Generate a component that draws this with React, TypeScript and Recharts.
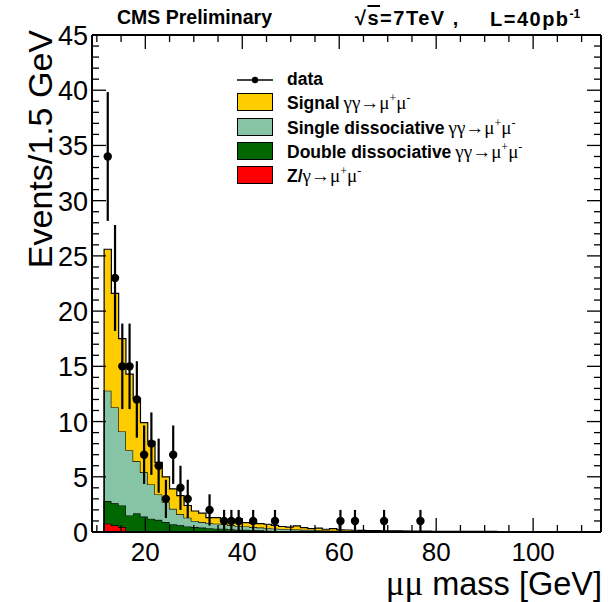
import { ComposedChart, Area, Scatter, ErrorBar, XAxis, YAxis } from 'recharts';

const FONT = '"Liberation Sans", Arial, Helvetica, sans-serif';
const GREEK = '"Liberation Serif", "DejaVu Serif", serif';

const YELLOW = '#ffcc00';
const LIGHT_GREEN = '#87c4a6';
const DARK_GREEN = '#006600';
const RED = '#ff0000';

// 1.5 GeV bins starting at 11.5 GeV
const BIN_START = 11.5;
const BIN_WIDTH = 1.5;

// stacked components per bin (bottom to top)
const zGamma = [
  0.75, 0.6, 0.45, 0.05, 0.05, 0.04, 0.04, 0.03, 0.03, 0.03,
  0.02, 0.02, 0.02, 0.02, 0.02, 0.02, 0.02, 0.02, 0.02, 0.02,
  0.01, 0.01, 0.01, 0.01, 0.01, 0.01, 0.01, 0.01, 0.01, 0.01,
  0.01, 0.01, 0.01, 0.01, 0.01, 0.01, 0.01, 0.01, 0.01, 0.01,
  0.01, 0.01, 0.01, 0.01, 0.01, 0.01, 0.01, 0.01, 0.01, 0.01,
  0.01, 0.01, 0.01, 0.01,
];
const doubleDiss = [
  2.05, 2.0, 1.95, 1.45, 1.65, 1.36, 1.16, 1.07, 0.87, 0.67,
  0.58, 0.48, 0.43, 0.38, 0.33, 0.28, 0.28, 0.23, 0.18, 0.18,
  0.14, 0.14, 0.11, 0.09, 0.09, 0.07, 0.07, 0.06, 0.05, 0.05,
  0.04, 0.04, 0.03, 0.03, 0.03, 0.02, 0.02, 0.02, 0.02, 0.02,
  0.02, 0.02, 0.01, 0.01, 0.01, 0.01, 0.01, 0.01, 0.01, 0.01,
  0.01, 0.01, 0.01, 0.01,
];
const singleDiss = [
  10.0, 8.7, 6.7, 5.9, 4.7, 4.0, 3.1, 2.3, 1.8, 1.4,
  1.0, 0.8, 0.55, 0.5, 0.45, 0.45, 0.4, 0.35, 0.35, 0.3,
  0.3, 0.25, 0.23, 0.2, 0.18, 0.17, 0.14, 0.13, 0.12, 0.1,
  0.09, 0.07, 0.06, 0.05, 0.05, 0.04, 0.04, 0.03, 0.03, 0.03,
  0.03, 0.02, 0.02, 0.02, 0.02, 0.02, 0.02, 0.02, 0.02, 0.02,
  0.02, 0.02, 0.02, 0.02,
];
const signal = [
  12.8, 10.3, 8.4, 6.9, 5.7, 4.5, 3.9, 2.9, 2.3, 1.8,
  1.7, 1.1, 0.9, 0.8, 0.5, 0.55, 0.25, 0.3, 0.35, 0.35,
  0.35, 0.35, 0.35, 0.3, 0.22, 0.2, 0.33, 0.2, 0.12, 0.19,
  0.11, 0.18, 0.1, 0.09, 0.07, 0.08, 0.06, 0.06, 0.05, 0.05,
  0.05, 0.04, 0.04, 0.04, 0.04, 0.03, 0.03, 0.03, 0.03, 0.03,
  0.03, 0.03, 0.03, 0.03,
];

// observed events (bin centres)
const dataMass = [
  12.25, 13.75, 15.25, 16.75, 18.25, 19.75, 21.25, 22.75, 24.25, 25.75, 27.25,
  28.75, 33.25, 36.25, 37.75, 39.25, 42.25, 46.75, 60.25, 63.25, 69.25, 76.75,
];
const dataCounts = [34, 23, 15, 15, 12, 7, 8, 6, 3, 7, 4, 3, 2, 1, 1, 1, 1, 1, 1, 1, 1, 1];

const xTicks = [10, 15, 20, 25, 30, 35, 40, 45, 50, 55, 60, 65, 70, 75, 80, 85, 90, 95, 100, 105, 110];
const yTicks = [
  0, 1, 2, 3, 4, 5, 6, 7, 8, 9, 10, 11, 12, 13, 14, 15, 16, 17, 18, 19, 20, 21, 22,
  23, 24, 25, 26, 27, 28, 29, 30, 31, 32, 33, 34, 35, 36, 37, 38, 39, 40, 41, 42, 43, 44, 45,
];

const lastEdge = BIN_START + BIN_WIDTH * signal.length;
const histRows = [
  { x: BIN_START, z: 0, dbl: 0, sgl: 0, sig: 0 },
  ...signal.map((_, i) => ({
    x: BIN_START + BIN_WIDTH * i,
    z: zGamma[i],
    dbl: doubleDiss[i],
    sgl: singleDiss[i],
    sig: signal[i],
  })),
  { x: lastEdge, z: 0, dbl: 0, sgl: 0, sig: 0 },
];

const points = dataMass.map((m, i) => ({ x: m, y: dataCounts[i], err: Math.sqrt(dataCounts[i]) }));

const legendRows = [
  { kind: 'data', name: 'data', proc: '' },
  { kind: 'box', color: YELLOW, name: 'Signal', proc: 'γγ→μ' },
  { kind: 'box', color: LIGHT_GREEN, name: 'Single dissociative', proc: 'γγ→μ' },
  { kind: 'box', color: DARK_GREEN, name: 'Double dissociative', proc: 'γγ→μ' },
  { kind: 'box', color: RED, name: 'Z/', proc: 'γ→μ' },
];

function BottomTick({ x, y, payload }: any) {
  const major = payload.value % 20 === 0;
  return (
    <g>
      <line x1={x} x2={x} y1={y} y2={y - (major ? 14 : 7)} stroke="#000" strokeWidth={1.3} />
      {major && (
        <text x={x} y={y + 29} textAnchor="middle" fontSize={26} fontFamily={FONT} fill="#000">
          {payload.value}
        </text>
      )}
    </g>
  );
}

function TopTick({ x, y, payload }: any) {
  const major = payload.value % 20 === 0;
  return <line x1={x} x2={x} y1={y} y2={y + (major ? 14 : 7)} stroke="#000" strokeWidth={1.3} />;
}

function LeftTick({ x, y, payload }: any) {
  const major = payload.value % 5 === 0;
  return (
    <g>
      <line x1={x} x2={x + (major ? 14 : 7)} y1={y} y2={y} stroke="#000" strokeWidth={1.3} />
      {major && (
        <text x={x - 4} y={y + 10} textAnchor="end" fontSize={27} fontFamily={FONT} fill="#000">
          {payload.value}
        </text>
      )}
    </g>
  );
}

function RightTick({ x, y, payload }: any) {
  const major = payload.value % 5 === 0;
  return <line x1={x} x2={x - (major ? 14 : 7)} y1={y} y2={y} stroke="#000" strokeWidth={1.3} />;
}

function Dot({ cx, cy }: any) {
  return <circle cx={cx} cy={cy} r={4.2} fill="#000" />;
}

function NoDot() {
  return <g />;
}

function Procs({ proc, name }: { proc: string; name: string }) {
  if (!proc) return null;
  return (
    <span style={{ fontFamily: GREEK, fontWeight: 'normal', fontSize: 19, marginLeft: name === 'Z/' ? 0 : 4 }}>
      {proc}
      <sup style={{ fontSize: 12 }}>+</sup>μ<sup style={{ fontSize: 12 }}>-</sup>
    </span>
  );
}

const header: any = {
  position: 'absolute',
  top: 8,
  fontFamily: FONT,
  fontWeight: 'bold',
  whiteSpace: 'nowrap',
  lineHeight: 1,
};

export default function App() {
  return (
    <div style={{ position: 'absolute', left: 0, top: 0, width: 608, height: 602, background: '#fff' }}>
      <ComposedChart
        width={608}
        height={602}
        data={histRows}
        margin={{ top: 34, right: 6, bottom: 0, left: 0 }}
      >
        <XAxis
          xAxisId={0}
          dataKey="x"
          type="number"
          domain={[9, 114]}
          allowDataOverflow
          ticks={xTicks}
          interval={0}
          height={70}
          tickSize={0}
          tickMargin={0}
          tickLine={false}
          axisLine={{ stroke: '#000', strokeWidth: 2 }}
          tick={<BottomTick />}
          label={{
            content: () => (
              <text x={602} y={595} textAnchor="end" fontSize={32.5} fontFamily={FONT} fill="#000">
                <tspan fontFamily={GREEK} fontSize={35}>μμ</tspan> mass [GeV]
              </text>
            ),
          }}
        />
        <XAxis
          xAxisId="top"
          orientation="top"
          dataKey="x"
          type="number"
          domain={[9, 114]}
          allowDataOverflow
          ticks={xTicks}
          interval={0}
          height={1}
          tickSize={0}
          tickMargin={0}
          tickLine={false}
          axisLine={{ stroke: '#000', strokeWidth: 2 }}
          tick={<TopTick />}
        />
        <YAxis
          yAxisId={0}
          type="number"
          domain={[0, 45]}
          allowDataOverflow
          ticks={yTicks}
          interval={0}
          width={92}
          tickSize={0}
          tickMargin={0}
          tickLine={false}
          axisLine={{ stroke: '#000', strokeWidth: 2 }}
          tick={<LeftTick />}
          label={{
            content: () => (
              <text
                x={52}
                y={30}
                transform="rotate(-90 52 30)"
                textAnchor="end"
                fontSize={34}
                fontFamily={FONT}
                fill="#000"
              >
                Events/1.5 GeV
              </text>
            ),
          }}
        />
        <YAxis
          yAxisId="right"
          orientation="right"
          type="number"
          domain={[0, 45]}
          allowDataOverflow
          ticks={yTicks}
          interval={0}
          width={1}
          tickSize={0}
          tickMargin={0}
          tickLine={false}
          axisLine={{ stroke: '#000', strokeWidth: 2 }}
          tick={<RightTick />}
        />
        <Area type="stepAfter" dataKey="z" stackId="mc" fill={RED} fillOpacity={1} stroke="#000" strokeWidth={1.2} isAnimationActive={false} />
        <Area type="stepAfter" dataKey="dbl" stackId="mc" fill={DARK_GREEN} fillOpacity={1} stroke="#000" strokeWidth={1.2} isAnimationActive={false} />
        <Area type="stepAfter" dataKey="sgl" stackId="mc" fill={LIGHT_GREEN} fillOpacity={1} stroke="#000" strokeWidth={1.2} isAnimationActive={false} />
        <Area type="stepAfter" dataKey="sig" stackId="mc" fill={YELLOW} fillOpacity={1} stroke="#000" strokeWidth={1.2} isAnimationActive={false} />
        <Scatter data={points} dataKey="y" shape={<Dot />} isAnimationActive={false}>
          <ErrorBar dataKey="err" direction="y" width={0} stroke="#000" strokeWidth={2.2} />
        </Scatter>
        {/* invisible copy so the top/right frame axes get drawn */}
        <Scatter
          xAxisId="top"
          yAxisId="right"
          data={points}
          dataKey="y"
          shape={<NoDot />}
          isAnimationActive={false}
        />
      </ComposedChart>

      <div style={{ ...header, left: 117, fontSize: 19.5 }}>CMS Preliminary</div>
      <div style={{ ...header, left: 355, fontSize: 20, letterSpacing: 1.5 }}>
        √<span style={{ textDecoration: 'overline' }}>s</span>=7TeV ,
      </div>
      <div style={{ ...header, left: 490, fontSize: 20, letterSpacing: 1.5 }}>
        L=40pb<sup style={{ fontSize: 12, letterSpacing: 0 }}>-1</sup>
      </div>

      {legendRows.map((r, i) => {
        const cy = [80, 102, 127, 151, 175][i];
        return (
          <div key={r.name} style={{ position: 'absolute', left: 237, top: cy - 11, height: 22, display: 'flex', alignItems: 'center', whiteSpace: 'nowrap' }}>
            {r.kind === 'data' ? (
              <svg width={36} height={20}>
                <line x1={0} x2={36} y1={10} y2={10} stroke="#000" strokeWidth={1.5} />
                <circle cx={18} cy={10} r={3.2} fill="#000" />
              </svg>
            ) : (
              <div style={{ width: 34, height: 16, background: r.color, border: '1px solid #000' }} />
            )}
            <span style={{ marginLeft: 14, fontFamily: FONT, fontWeight: 'bold', fontSize: 17.5, lineHeight: 1 }}>
              {r.name}
              <Procs proc={r.proc} name={r.name} />
            </span>
          </div>
        );
      })}
    </div>
  );
}
